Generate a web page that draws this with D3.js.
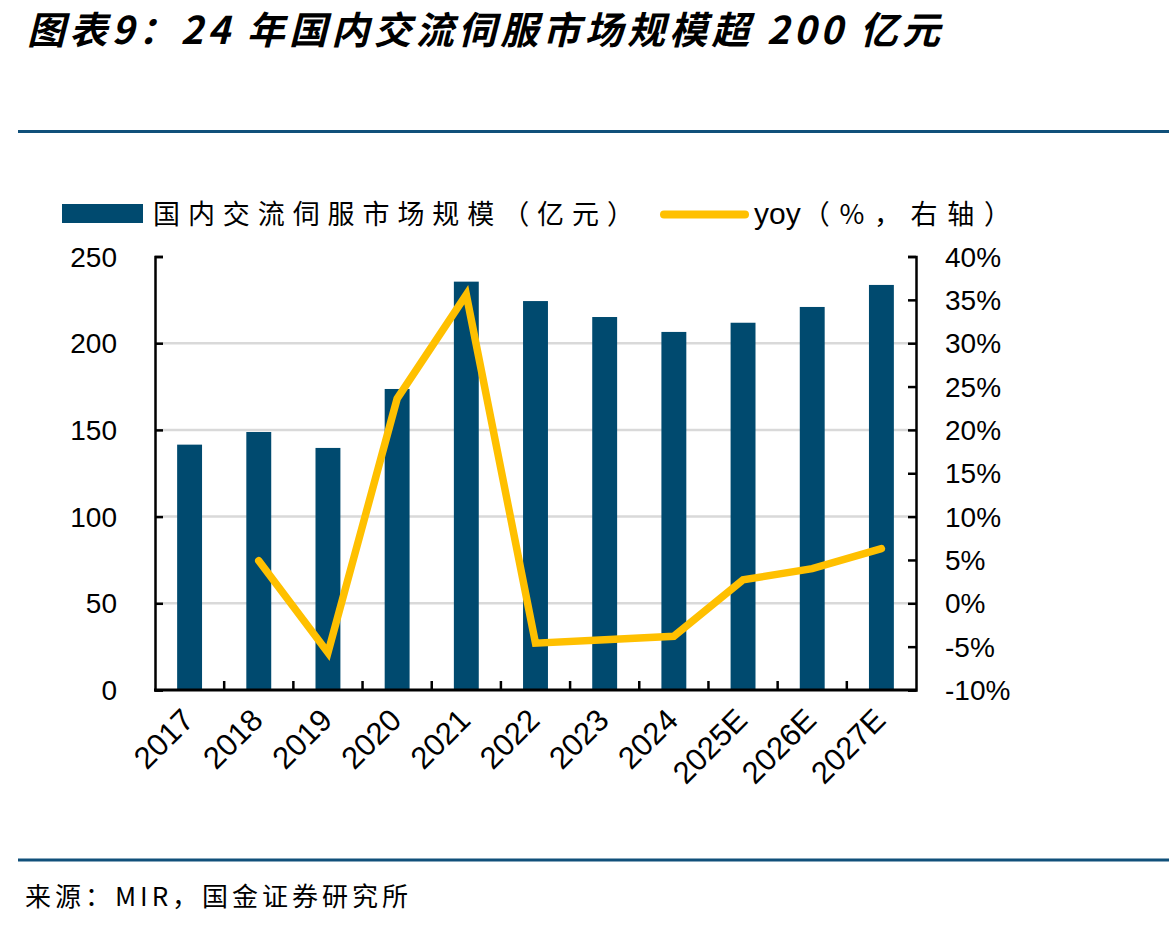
<!DOCTYPE html>
<html>
<head>
<meta charset="utf-8">
<script src="https://cdn.jsdelivr.net/npm/d3@7"></script>
<style>
  html, body { margin: 0; padding: 0; background: #fff; }
  svg { display: block; }
</style>
</head>
<body>
<svg id="chart" width="1169" height="928"></svg>
<script>
// ---- data ----
const categories = ["2017","2018","2019","2020","2021","2022","2023","2024","2025E","2026E","2027E"];
const marketSize = [141.5, 148.8, 139.6, 173.6, 235.5, 224.3, 215.1, 206.5, 211.8, 220.9, 233.6];
const yoy = [null, 4.9, -5.7, 23.6, 35.6, -4.6, -4.2, -3.8, 2.7, 4.0, 6.3];
const leftTicks = [0, 50, 100, 150, 200, 250];
const rightTicks = [-10, -5, 0, 5, 10, 15, 20, 25, 30, 35, 40];
const titleText = "图表9：24 年国内交流伺服市场规模超 200 亿元";
const legendBar = "国内交流伺服市场规模（亿元）";
const legendLineHead = "yoy";
const legendLineTail = "（%，右轴）";
const sourceText = "来源：MIR，国金证券研究所";

// ---- layout ----
const svg = d3.select("#chart");
const X0 = 155, X1 = 916, Y0 = 690, Y1 = 256.5;
const barColor = "#004a6f", lineColor = "#ffc000", ruleColor = "#10507a";
const latin = "'Liberation Sans', Arial, sans-serif";
const cjk = "'Noto Sans CJK SC', 'Noto Sans', sans-serif";

function fit(sel, target) {
  const n = sel.text().length;
  const w = sel.node().getComputedTextLength();
  sel.attr("letter-spacing", ((target - w) / Math.max(1, n - 1)).toFixed(2));
}

// title
const title = svg.append("text").attr("x", 27).attr("y", 44)
  .attr("font-family", cjk).attr("font-weight", "bold").attr("font-style", "italic")
  .attr("font-size", 38).attr("fill", "#000").text(titleText);
fit(title, 913);

// rules
svg.append("line").attr("x1", 18).attr("x2", 1169).attr("y1", 131.5).attr("y2", 131.5)
  .attr("stroke", ruleColor).attr("stroke-width", 3);
svg.append("line").attr("x1", 18).attr("x2", 1169).attr("y1", 860).attr("y2", 860)
  .attr("stroke", ruleColor).attr("stroke-width", 3);

// source
const src = svg.append("text").attr("x", 25).attr("y", 906)
  .attr("font-family", cjk).attr("font-size", 26).attr("fill", "#000").text(sourceText);
fit(src, 383);

// scales
const x = d3.scaleBand().domain(categories).range([X0, X1]).paddingInner(0.64).paddingOuter(0.32);
const yL = d3.scaleLinear().domain([0, 250]).range([Y0, Y1]);
const yR = d3.scaleLinear().domain([-10, 40]).range([Y0, Y1]);

// gridlines
svg.append("g").selectAll("line").data(leftTicks.filter(d => d > 0 && d < 250)).join("line")
  .attr("x1", X0).attr("x2", X1).attr("y1", d => yL(d)).attr("y2", d => yL(d))
  .attr("stroke", "#d9d9d9").attr("stroke-width", 2.5);

// bars
svg.append("g").selectAll("rect").data(categories).join("rect")
  .attr("x", d => x(d)).attr("width", x.bandwidth())
  .attr("y", (d, i) => yL(marketSize[i])).attr("height", (d, i) => Y0 - yL(marketSize[i]))
  .attr("fill", barColor);

// axes
const axL = svg.append("g").attr("transform", `translate(${X0},0)`)
  .call(d3.axisRight(yL).tickValues(leftTicks).tickSize(8).tickFormat(""));
const axR = svg.append("g").attr("transform", `translate(${X1},0)`)
  .call(d3.axisLeft(yR).tickValues(rightTicks).tickSize(8).tickFormat(""));
[axL, axR].forEach(a => {
  a.select(".domain").attr("stroke", "#000").attr("stroke-width", 2.5);
  a.selectAll(".tick line").attr("stroke", "#000").attr("stroke-width", 2.5);
});

// left labels
svg.append("g").selectAll("text").data(leftTicks).join("text")
  .attr("x", 117).attr("y", d => yL(d)).attr("dy", "0.36em")
  .attr("text-anchor", "end").attr("font-family", latin).attr("font-size", 28)
  .attr("fill", "#000").text(d => d);
// right labels
svg.append("g").selectAll("text").data(rightTicks).join("text")
  .attr("x", 945).attr("y", d => yR(d)).attr("dy", "0.36em")
  .attr("text-anchor", "start").attr("font-family", latin).attr("font-size", 28)
  .attr("fill", "#000").text(d => d + "%");

// x axis
const step = x.step();
const bounds = d3.range(1, categories.length).map(i => X0 + i * step);
svg.append("g").selectAll("line").data(bounds).join("line")
  .attr("x1", d => d).attr("x2", d => d).attr("y1", Y0).attr("y2", Y0 - 9)
  .attr("stroke", "#000").attr("stroke-width", 2.5);
svg.append("line").attr("x1", X0 - 1).attr("x2", X1 + 1).attr("y1", Y0).attr("y2", Y0)
  .attr("stroke", "#000").attr("stroke-width", 3);

svg.append("g").selectAll("text").data(categories).join("text")
  .attr("transform", d => `translate(${x(d) + x.bandwidth() / 2 + 6},${722}) rotate(-45)`)
  .attr("text-anchor", "end").attr("font-family", latin).attr("font-size", 31)
  .attr("fill", "#000").text(d => d);

// line
const pts = categories.map((c, i) => ({ c, v: yoy[i] })).filter(d => d.v !== null);
const line = d3.line().x(d => x(d.c) + x.bandwidth() / 2).y(d => yR(d.v));
svg.append("path").datum(pts).attr("d", line)
  .attr("fill", "none").attr("stroke", lineColor).attr("stroke-width", 7.5)
  .attr("stroke-linecap", "round").attr("stroke-linejoin", "miter").attr("stroke-miterlimit", 3);

// legend
svg.append("rect").attr("x", 62).attr("y", 204).attr("width", 81).attr("height", 19).attr("fill", barColor);
const lt1 = svg.append("text").attr("x", 153).attr("y", 224)
  .attr("font-family", cjk).attr("font-size", 27).attr("fill", "#000").text(legendBar);
fit(lt1, 481);
svg.append("line").attr("x1", 664).attr("x2", 745).attr("y1", 214.5).attr("y2", 214.5)
  .attr("stroke", lineColor).attr("stroke-width", 8).attr("stroke-linecap", "round");
const lt2a = svg.append("text").attr("x", 754).attr("y", 224)
  .attr("font-family", latin).attr("font-size", 30).attr("fill", "#000").text(legendLineHead);
const headW = lt2a.node().getComputedTextLength();
const lt2b = svg.append("text").attr("x", 754 + headW + 2).attr("y", 224)
  .attr("font-family", cjk).attr("font-size", 27).attr("fill", "#000").text(legendLineTail);
fit(lt2b, 257 - headW - 2);
</script>
</body>
</html>
